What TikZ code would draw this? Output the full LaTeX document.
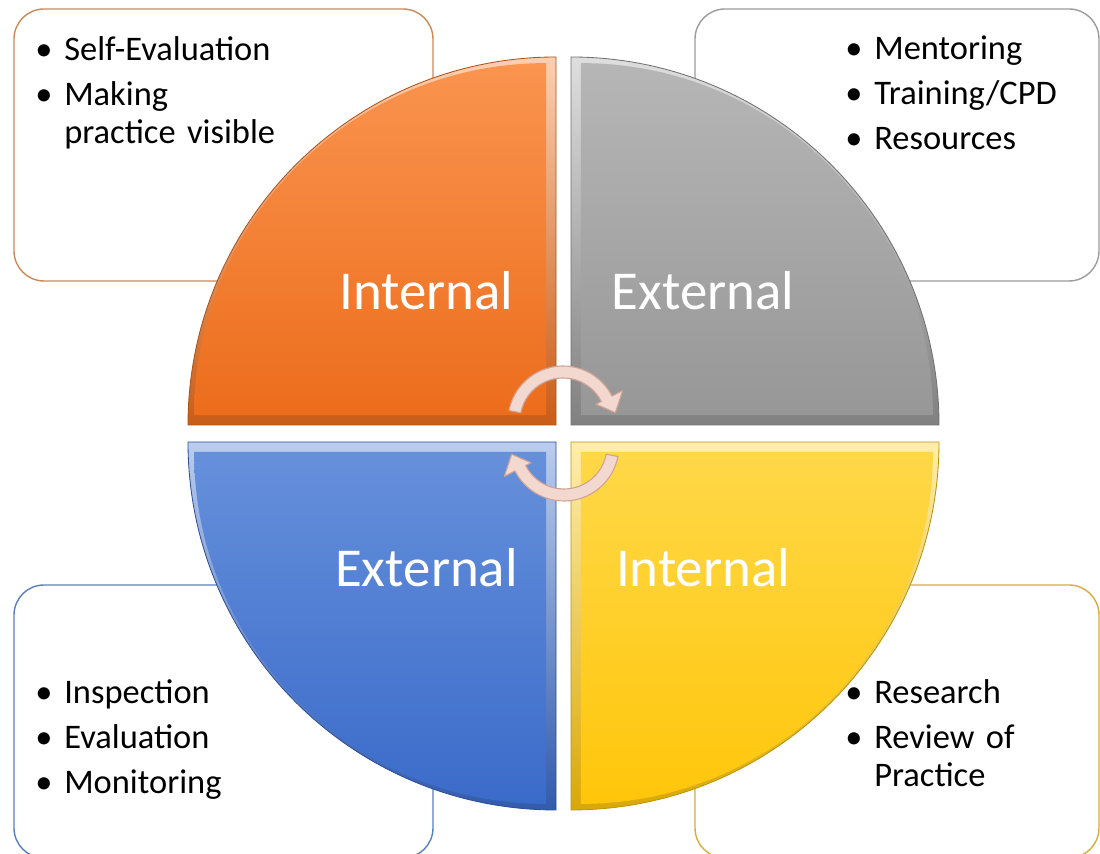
\documentclass[tikz,border=0pt]{standalone}
\usepackage{fontspec}
\setmainfont{Carlito}
\usepackage{enumitem}
\setlist[itemize]{label=\textbullet, leftmargin=0.725cm, labelwidth=0.725cm, labelsep=0pt, align=left,
  itemsep=4.6pt, parsep=0pt, topsep=0pt, partopsep=0pt}

\definecolor{orangetop}{HTML}{FA944F}
\definecolor{orangebot}{HTML}{EC6D1C}
\definecolor{greytop}{HTML}{B6B6B6}
\definecolor{greybot}{HTML}{979797}
\definecolor{bluetop}{HTML}{6690DB}
\definecolor{bluebot}{HTML}{3B6BCA}
\definecolor{yellowtop}{HTML}{FFD848}
\definecolor{yellowbot}{HTML}{FFC60A}
\definecolor{boxorange}{HTML}{CD8A55}
\definecolor{boxgrey}{HTML}{9C9C9C}
\definecolor{boxblue}{HTML}{5A7EC2}
\definecolor{boxyellow}{HTML}{D6AE3A}
\definecolor{arrowfill}{HTML}{F3D8D0}
\definecolor{arrowline}{HTML}{CFA497}

\begin{document}
\begin{tikzpicture}[x=.025cm,y=.025cm,
  listbox/.style={line width=1pt, rounded corners=0.75cm, fill=white},
  listtext/.style={anchor=base west, inner sep=0pt, text width=9.5cm, font=\fontsize{24.5}{27.3}\selectfont},
  quadlabel/.style={anchor=base, inner sep=0pt, text=white, font=\fontsize{39}{46}\selectfont},
  cyclearrow/.style={fill=arrowfill, draw=arrowline, line width=.8pt, line join=round}]
\fill [white] (0,0) rectangle (1100,854);
\useasboundingbox (0,0) rectangle (1100,854);

% boxes behind the circle
\draw [listbox, draw=boxorange] (14,573) rectangle (433,845);
\draw [listbox, draw=boxgrey] (695,573) rectangle (1099,845);
\draw [listbox, draw=boxblue] (14,-4) rectangle (433,269);
\draw [listbox, draw=boxyellow] (695,-4) rectangle (1099,269);

\node [listtext] (nwList) at (35,832) {\begin{itemize}\item Self-Evaluation \item Making\newline practice visible\end{itemize}};
\node [listtext] (neList) at (845,833) {\begin{itemize}\item Mentoring \item Training/CPD \item Resources\end{itemize}};
\node [listtext] (swList) at (35,189) {\begin{itemize}\item Inspection \item Evaluation \item Monitoring\end{itemize}};
\node [listtext] (seList) at (845,189) {\begin{itemize}\item Research \item Review of\newline Practice\end{itemize}};

% the four quarters, with a bevelled rim
\foreach \cx/\cy/\sa/\shadetop/\shadebot in {556/429/90/orangetop/orangebot, 571/429/0/greytop/greybot,
    556/412/180/bluetop/bluebot, 571/412/270/yellowtop/yellowbot} {
  \path [draw=\shadebot!75!black, line width=.6pt, top color=\shadetop!45!white, bottom color=\shadebot!85!black]
    (\cx,\cy) -- ++(\sa:368) arc [start angle=\sa, delta angle=90, radius=368] -- cycle;
  \path [top color=\shadetop, bottom color=\shadebot]
    ([shift={(\sa+45:14)}]\cx,\cy) -- ++(\sa:352) arc [start angle=\sa, delta angle=90, radius=352] -- cycle;
}

\node [quadlabel] (internalNW) at (426.5,544) {Internal};
\node [quadlabel] (externalNE) at (703,544) {External};
\node [quadlabel] (externalSW) at (426.5,267) {External};
\node [quadlabel] (internalSE) at (703,267) {Internal};

% cycle arrows in the middle
\begin{scope}[shift={(563,433)}]
\draw [cyclearrow] (169:55) arc [start angle=169, end angle=27, radius=55] -- (27:67) -- (9:53)
  -- (27:37) -- (27:43) arc [start angle=27, end angle=169, radius=43] -- cycle;
\end{scope}
\begin{scope}[rotate around={180:(563.5,420.5)}, shift={(563,433)}]
\draw [cyclearrow] (169:55) arc [start angle=169, end angle=27, radius=55] -- (27:67) -- (9:53)
  -- (27:37) -- (27:43) arc [start angle=27, end angle=169, radius=43] -- cycle;
\end{scope}
\end{tikzpicture}
\end{document}
